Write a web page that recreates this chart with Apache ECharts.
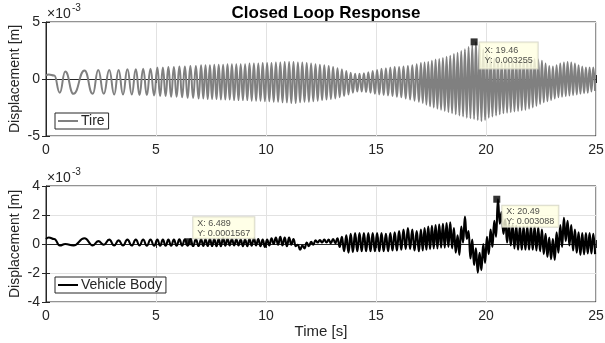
<!DOCTYPE html>
<html>
<head>
<meta charset="utf-8">
<script src="https://cdn.jsdelivr.net/npm/echarts@6/dist/echarts.min.js"></script>
<style>
  html, body { margin: 0; padding: 0; background: #fff; }
  #chart { width: 605px; height: 343px; }
</style>
</head>
<body>
<div id="chart"></div>
<script>
// values in units of 1e-3 m; each inner array = the successive peaks/troughs seen in one second of time
var tireStart = 0.3;
var tireBins = [
  [0.4, 0.3, -1.2, 0.65],
  [-1.3, 0.75],
  [-1.3, 0.8, -1.3, 0.8],
  [-1.35, 0.8, -1.35, 0.85, -1.35],
  [0.85, -1.4, 0.9, -1.4, 0.9, -1.45],
  [1.0, -1.5, 1.0, -1.5, 1.05, -1.55, 1.05, -1.55],
  [1.1, -1.6, 1.1, -1.65, 1.15, -1.65, 1.15, -1.7],
  [1.2, -1.7, 1.2, -1.75, 1.2, -1.75, 1.25, -1.75, 1.25, -1.8],
  [1.25, -1.8, 1.3, -1.8, 1.3, -1.85, 1.3, -1.85, 1.3, -1.85],
  [1.3, -1.85, 1.35, -1.9, 1.35, -1.9, 1.35, -1.9, 1.4, -1.95],
  [1.4, -1.95, 1.4, -2.0, 1.45, -2.0, 1.45, -2.05, 1.5, -2.05],
  [1.5, -2.1, 1.5, -2.1, 1.45, -2.05, 1.45, -2.0, 1.4, -2.0],
  [1.35, -1.95, 1.3, -1.9, 1.25, -1.85, 1.2, -1.8, 1.15, -1.75],
  [1.05, -1.7, 0.95, -1.6, 0.85, -1.5, 0.7, -1.35, 0.55, -1.2],
  [0.45, -1.1, 0.45, -1.1, 0.5, -1.15, 0.6, -1.2, 0.7, -1.3],
  [0.8, -1.35, 0.9, -1.4, 0.95, -1.45, 1.0, -1.5, 1.05, -1.55],
  [1.05, -1.6, 1.1, -1.7, 1.15, -1.8, 1.2, -1.9, 1.3, -2.0],
  [1.4, -2.1, 1.45, -2.25, 1.5, -2.4, 1.6, -2.5, 1.7, -2.6, 1.75, -2.7],
  [1.85, -2.8, 1.95, -2.9, 2.05, -3.0, 2.2, -3.1, 2.3, -3.2, 2.45, -3.3],
  [2.6, -3.4, 2.8, -3.45, 2.95, -3.5, 3.255, -3.6, 3.0, -3.7, 2.6, -3.6],
  [2.2, -3.4, 1.9, -3.3, 1.8, -3.2, 1.7, -3.1, 1.6, -3.0, 1.6, -2.95],
  [1.6, -2.9, 1.65, -2.85, 1.7, -2.8, 1.7, -2.75, 1.7, -2.7, 1.7, -2.6],
  [1.7, -2.5, 1.75, -2.35, 1.7, -2.2, 1.6, -2.05, 1.35, -1.95, 1.15, -1.85],
  [1.1, -1.7, 1.2, -1.6, 1.35, -1.55, 1.45, -1.5, 1.5, -1.45, 1.45, -1.4],
  [1.35, -1.35, 1.2, -1.3, 1.1, -1.25, 1.0, -1.2, 1.0, -1.1, 1.0, -1.05]
];

var bodyStart = 0.35;
var bodyBins = [
  [0.45, 0.35, -0.1, 0.0],
  [-0.1, 0.4],
  [-0.1, 0.2, -0.05, 0.3],
  [-0.1, 0.25, -0.1, 0.3, -0.1],
  [0.3, -0.1, 0.3, -0.12, 0.3, -0.12],
  [0.3, -0.12, 0.3, -0.12, 0.3, -0.12, 0.3, -0.12],
  [0.32, -0.12, 0.32, -0.12, 0.32, -0.14, 0.32, -0.14],
  [0.33, -0.14, 0.33, -0.14, 0.35, -0.14, 0.35, -0.15, 0.35, -0.15],
  [0.42, -0.12, 0.38, -0.1, 0.35, -0.1, 0.33, -0.1, 0.3, -0.15],
  [0.3, -0.15, 0.35, -0.12, 0.4, -0.1, 0.35, -0.15, 0.3, -0.2],
  [0.3, -0.1, 0.4, 0.0, 0.45, -0.05, 0.5, -0.1, 0.45, -0.15],
  [0.45, -0.05, 0.35, -0.15, -0.05, -0.4, -0.1, -0.3, 0.1, -0.15],
  [0.15, -0.05, 0.25, 0.1, 0.28, 0.1, 0.3, 0.1, 0.3, 0.05],
  [0.35, 0.05, 0.4, -0.2, 0.5, -0.5, 0.6, -0.6, 0.7, -0.55],
  [0.75, -0.5, 0.75, -0.5, 0.75, -0.5, 0.75, -0.5, 0.75, -0.5],
  [0.75, -0.5, 0.75, -0.5, 0.7, -0.5, 0.75, -0.45, 0.8, -0.45],
  [0.9, -0.4, 1.0, -0.35, 1.1, -0.35, 1.0, -0.45, 0.9, -0.5],
  [1.0, -0.45, 1.1, -0.4, 1.2, -0.35, 1.25, -0.3, 1.3, -0.3, 1.35, -0.25],
  [1.4, -0.25, 1.45, -0.2, 1.5, -0.3, 1.1, -0.6, 0.6, -0.75, 1.2, 0.1],
  [1.9, 0.35, 0.9, -1.0, 0.3, -1.45, -0.3, -1.98, -0.6, -1.8, 0.0, -1.3],
  [0.5, -0.7, 1.0, -0.2, 1.6, 0.5, 3.088, 1.4, 2.2, 0.7, 1.7, 0.1],
  [1.4, -0.1, 1.3, -0.3, 1.25, -0.4, 1.2, -0.4, 1.2, -0.4, 1.2, -0.4],
  [1.2, -0.4, 1.2, -0.45, 1.15, -0.5, 1.0, -0.7, 0.7, -0.9, 0.45, -1.05],
  [0.35, -1.1, 0.8, -0.6, 1.3, -0.2, 1.8, 0.2, 1.6, -0.1, 1.3, -0.45],
  [1.0, -0.6, 0.8, -0.75, 0.75, -0.7, 0.75, -0.65, 0.75, -0.65, 0.7, -0.7]
];

// data tips [time s, displacement m]
var tireTips = [[19.46, 0.003255]];
var bodyTips = [[6.489, 0.0001567], [20.49, 0.003088]];

var xTicks = [0, 25, 5];
var tireTicks = [-5, 5, 5];
var bodyTicks = [-4, 4, 2];

var FONT = 'Liberation Sans';
var INK = '#262626';

function toPoints(start, bins) {
  var pts = [[0, start]];
  bins.forEach(function (vals, s) {
    vals.forEach(function (v, j) {
      pts.push([s + (j + 0.5) / vals.length, v]);
    });
  });
  return pts;
}

function tipPoints(tips) {
  return tips.map(function (t) {
    return { value: [t[0], t[1] * 1000], raw: t };
  });
}

function mainX(grid, extra) {
  return Object.assign({
    gridIndex: grid, type: 'value', min: xTicks[0], max: xTicks[1], interval: xTicks[2],
    axisLine: { lineStyle: { color: INK } },
    axisTick: { inside: true, length: 4, lineStyle: { color: INK } },
    axisLabel: { fontFamily: FONT, fontSize: 14, color: INK, margin: 7 },
    splitLine: { show: true, lineStyle: { color: '#e2e2e2' } }
  }, extra || {});
}
function mainY(grid, ticks) {
  return {
    gridIndex: grid, type: 'value', min: ticks[0], max: ticks[1], interval: ticks[2],
    name: 'Displacement [m]', nameLocation: 'middle', nameGap: 24, nameMoveOverlap: false,
    nameTextStyle: { fontFamily: FONT, fontSize: 14, color: INK },
    axisLine: { show: true, lineStyle: { color: INK } },
    axisTick: { show: true, inside: true, length: 4, lineStyle: { color: INK } },
    axisLabel: { fontFamily: FONT, fontSize: 14, color: INK, margin: 6 },
    splitLine: { show: true, lineStyle: { color: '#e2e2e2' } }
  };
}
function mirrorX(grid) {
  return {
    gridIndex: grid, type: 'value', position: 'top', min: xTicks[0], max: xTicks[1], interval: xTicks[2],
    axisLine: { show: false }, axisLabel: { show: false }, splitLine: { show: false },
    axisTick: { inside: true, length: 4, lineStyle: { color: INK } }
  };
}
function mirrorY(grid, ticks) {
  return {
    gridIndex: grid, type: 'value', position: 'right', min: ticks[0], max: ticks[1], interval: ticks[2],
    axisLine: { show: false }, axisLabel: { show: false }, splitLine: { show: false },
    axisTick: { show: true, inside: true, length: 4, lineStyle: { color: INK } }
  };
}

function tipSeries(name, xi, yi, tips, offset, pad) {
  return {
    name: name, type: 'scatter', xAxisIndex: xi, yAxisIndex: yi, z: 5,
    symbol: 'rect', symbolSize: 7, itemStyle: { color: '#000' },
    data: tipPoints(tips),
    label: {
      show: true,
      position: offset,
      formatter: function (p) { return 'X: ' + p.data.raw[0] + '\nY: ' + p.data.raw[1]; },
      fontFamily: FONT, fontSize: 9, lineHeight: 10, color: '#222',
      backgroundColor: '#ffffe1', borderColor: '#cfcfbf', borderWidth: 1,
      padding: pad, align: 'left', verticalAlign: 'top'
    }
  };
}

var legendBase = {
  orient: 'horizontal', icon: 'rect', itemWidth: 20, itemHeight: 2,
  backgroundColor: '#fff', borderColor: INK, borderWidth: 1, borderRadius: 0,
  padding: [1, 4, 1, 3], itemGap: 4,
  textStyle: { fontFamily: FONT, fontSize: 14, color: INK, padding: [0, 0, 0, -2] }
};

var gridBase = { left: 46, right: 9, show: true, borderColor: INK, borderWidth: 1, outerBoundsMode: 'none', containLabel: false };

var chart = echarts.init(document.getElementById('chart'), null, { renderer: 'canvas' });
chart.setOption({
  animation: false,
  backgroundColor: '#fff',
  title: {
    text: 'Closed Loop Response', left: 321, top: 0, textAlign: 'center',
    textStyle: { fontFamily: FONT, fontSize: 17, fontWeight: 'bold', color: '#000' }
  },
  grid: [
    Object.assign({ top: 22, height: 114 }, gridBase),
    Object.assign({ top: 186, height: 116 }, gridBase)
  ],
  xAxis: [
    mainX(0),
    mainX(1, {
      name: 'Time [s]', nameLocation: 'middle', nameGap: 20,
      nameTextStyle: { fontFamily: FONT, fontSize: 15, color: INK }
    }),
    mirrorX(0),
    mirrorX(1)
  ],
  yAxis: [mainY(0, tireTicks), mainY(1, bodyTicks), mirrorY(0, tireTicks), mirrorY(1, bodyTicks)],
  legend: [
    Object.assign({ data: ['Tire'], left: 55, top: 113 }, legendBase),
    Object.assign({ data: ['Vehicle Body'], left: 55, top: 277 }, legendBase)
  ],
  graphic: [
    { type: 'text', left: 47, top: 7, style: { text: '\u00d710', font: '14px "Liberation Sans"', fill: INK } },
    { type: 'text', left: 72, top: 3, style: { text: '-3', font: '10px "Liberation Sans"', fill: INK } },
    { type: 'text', left: 47, top: 171, style: { text: '\u00d710', font: '14px "Liberation Sans"', fill: INK } },
    { type: 'text', left: 72, top: 167, style: { text: '-3', font: '10px "Liberation Sans"', fill: INK } }
  ],
  series: [
    {
      name: 'Tire', type: 'line', xAxisIndex: 0, yAxisIndex: 0,
      data: toPoints(tireStart, tireBins), symbol: 'none', sampling: null,
      smooth: 0.5, smoothMonotone: 'x',
      lineStyle: { color: '#808080', width: 2 }, itemStyle: { color: '#808080' }
    },
    {
      name: 'Vehicle Body', type: 'line', xAxisIndex: 1, yAxisIndex: 1,
      data: toPoints(bodyStart, bodyBins), symbol: 'none', sampling: null,
      smooth: 0.5, smoothMonotone: 'x',
      lineStyle: { color: '#000', width: 2.1 }, itemStyle: { color: '#000' }
    },
    tipSeries('tipTire', 0, 0, tireTips, [9, 4], [3, 5, 3, 5]),
    tipSeries('tipBody1', 1, 1, bodyTips.slice(0, 1), [8, -21], [1, 4, 0, 4]),
    tipSeries('tipBody2', 1, 1, bodyTips.slice(1), [9, 10], [1, 4, 0, 4])
  ]
});
</script>
</body>
</html>
